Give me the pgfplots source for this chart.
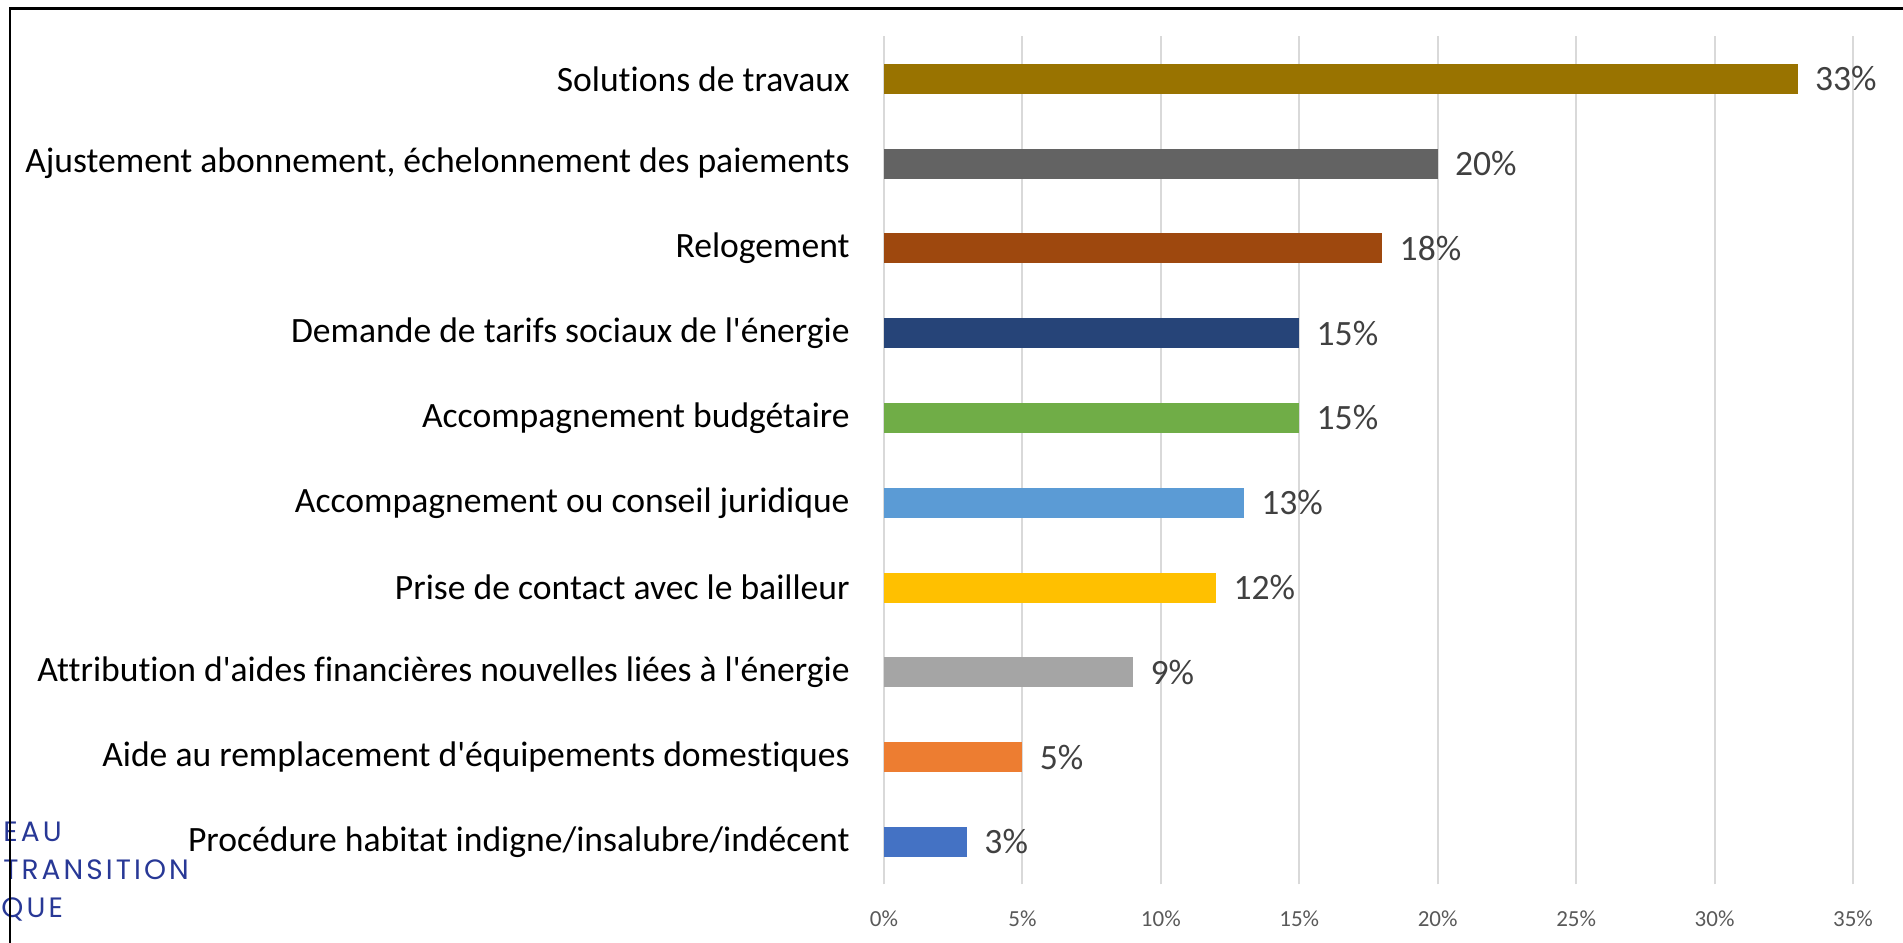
\documentclass[border=0pt]{standalone}
\usepackage{pgfplots}
\pgfplotsset{compat=1.18}
\usepackage{fontspec}
\setmainfont{Carlito}[Ligatures={NoCommon}]
\newfontfamily\logofont[LetterSpace=11]{Poppins}
\definecolor{cA}{HTML}{997300}
\definecolor{cB}{HTML}{636363}
\definecolor{cC}{HTML}{9E480E}
\definecolor{cD}{HTML}{264478}
\definecolor{cE}{HTML}{70AD47}
\definecolor{cF}{HTML}{5B9BD5}
\definecolor{cG}{HTML}{FFC000}
\definecolor{cH}{HTML}{A5A5A5}
\definecolor{cI}{HTML}{ED7D31}
\definecolor{cJ}{HTML}{4472C4}
\definecolor{gridgray}{HTML}{D9D9D9}
\definecolor{tickgray}{HTML}{595959}
\definecolor{valgray}{HTML}{404040}
\definecolor{logoblue}{RGB}{40,56,150}
\newcommand{\q}{\textquotesingle}
\begin{document}
\begin{tikzpicture}
\useasboundingbox (0pt,0pt) rectangle (951.5pt,471.5pt);
\begin{axis}[
  at={(442pt,29.3pt)}, anchor=south west,
  scale only axis, width=484.5pt, height=424pt,
  xbar, bar shift=0pt, bar width=15pt,
  xmin=0, xmax=35, ymin=-0.5, ymax=9.5,
  /pgf/number format/assume math mode=true,
  xtick={0,5,...,35},
  xticklabel={\pgfmathprintnumber{\tick}\%},
  ytick={0,...,9},
  yticklabels={Procédure habitat indigne/insalubre/indécent,
    Aide au remplacement d\q équipements domestiques,
    Attribution d\q aides financières nouvelles liées à l\q énergie,
    Prise de contact avec le bailleur,
    Accompagnement ou conseil juridique,
    Accompagnement budgétaire,
    Demande de tarifs sociaux de l\q énergie,
    Relogement,
    {Ajustement abonnement, échelonnement des paiements},
    Solutions de travaux},
  xmajorgrids, grid style={color=gridgray, line width=1pt},
  axis line style={draw=none}, major tick length=0pt,
  xticklabel style={font=\fontsize{11.5}{13}\selectfont, text=tickgray, anchor=center, inner sep=0pt, yshift=-17pt},
  yticklabel style={font=\fontsize{17.8}{20}\selectfont, text=black, anchor=east, inner sep=0pt, xshift=-17pt},
  nodes near coords={\pgfmathprintnumber{\pgfplotspointmeta}\%},
  nodes near coords style={anchor=west, font=\fontsize{17.8}{20}\selectfont, text=valgray, inner sep=0pt, xshift=8.5pt},
  clip=false,
]
\addplot[fill=cA, draw=none] coordinates {(33,9)};
\addplot[fill=cB, draw=none] coordinates {(20,8)};
\addplot[fill=cC, draw=none] coordinates {(18,7)};
\addplot[fill=cD, draw=none] coordinates {(15,6)};
\addplot[fill=cE, draw=none] coordinates {(15,5)};
\addplot[fill=cF, draw=none] coordinates {(13,4)};
\addplot[fill=cG, draw=none] coordinates {(12,3)};
\addplot[fill=cH, draw=none] coordinates {(9,2)};
\addplot[fill=cI, draw=none] coordinates {(5,1)};
\addplot[fill=cJ, draw=none] coordinates {(3,0)};
\end{axis}
\begin{scope}[every node/.style={anchor=base west, inner sep=0pt, text=logoblue, font=\logofont\fontsize{14}{16}\selectfont}]
\node at (1.5pt,50.5pt) {EAU};
\node at (1.5pt,31.5pt) {TRANSITION};
\node at (0.5pt,12.5pt) {QUE};
\end{scope}
\draw[line width=1.25pt] (4.9pt,0pt) -- (4.9pt,467.3pt) -- (951.5pt,467.3pt);
\end{tikzpicture}
\end{document}
